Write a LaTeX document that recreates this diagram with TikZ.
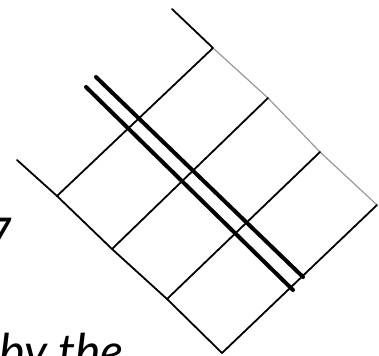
\documentclass[tikz,border=0pt]{standalone}
\usepackage{fontspec}
\setmainfont{Lato}
\begin{document}
\begin{tikzpicture}[x=1pt,y=-1pt,
  pen/.style={line width=1.8pt,line cap=round,line join=round},
  faint/.style={line width=1.2pt,draw=black!40,line cap=round},
  rail/.style={line width=4pt,line cap=round},
  hand/.style={inner sep=0pt,font=\fontsize{48}{56}\selectfont\itshape}]
\useasboundingbox (0,0) rectangle (379,355);
\clip (0,0) rectangle (379,355);
% upper edge
\coordinate (A) at (172,9);
\coordinate (P1) at (213,48);
\coordinate (P2) at (268,98);
\coordinate (P3) at (320,152);
\coordinate (P4) at (377,205);
% lower edge
\coordinate (L0) at (17,160);
\coordinate (Q1) at (57,196);
\coordinate (Q2) at (112,249);
\coordinate (Q3) at (167,299);
\coordinate (B) at (222,353);
% rails
\coordinate (R1s) at (96,77);
\coordinate (R1e) at (303,277);
\coordinate (R2s) at (86,87);
\coordinate (R2e) at (293,290);
\draw[pen] (A) -- (P1);
\draw[faint] (P1) -- (P2) -- (P3) -- (P4);
\draw[pen] (L0) -- (Q1) -- (Q2) -- (Q3) -- (B);
\draw[pen] (P1) -- (Q1);
\draw[pen] (P2) -- (Q2);
\draw[pen] (P3) -- (Q3);
\draw[pen] (P4) -- (B);
\draw[rail] (R1s) -- (R1e);
\draw[rail] (R2s) -- (R2e);
\node[hand,anchor=north east] (seven) at (13,218) {7};
\node[hand,anchor=base east] (bythe) at (124,368) {by the};
\end{tikzpicture}
\end{document}
